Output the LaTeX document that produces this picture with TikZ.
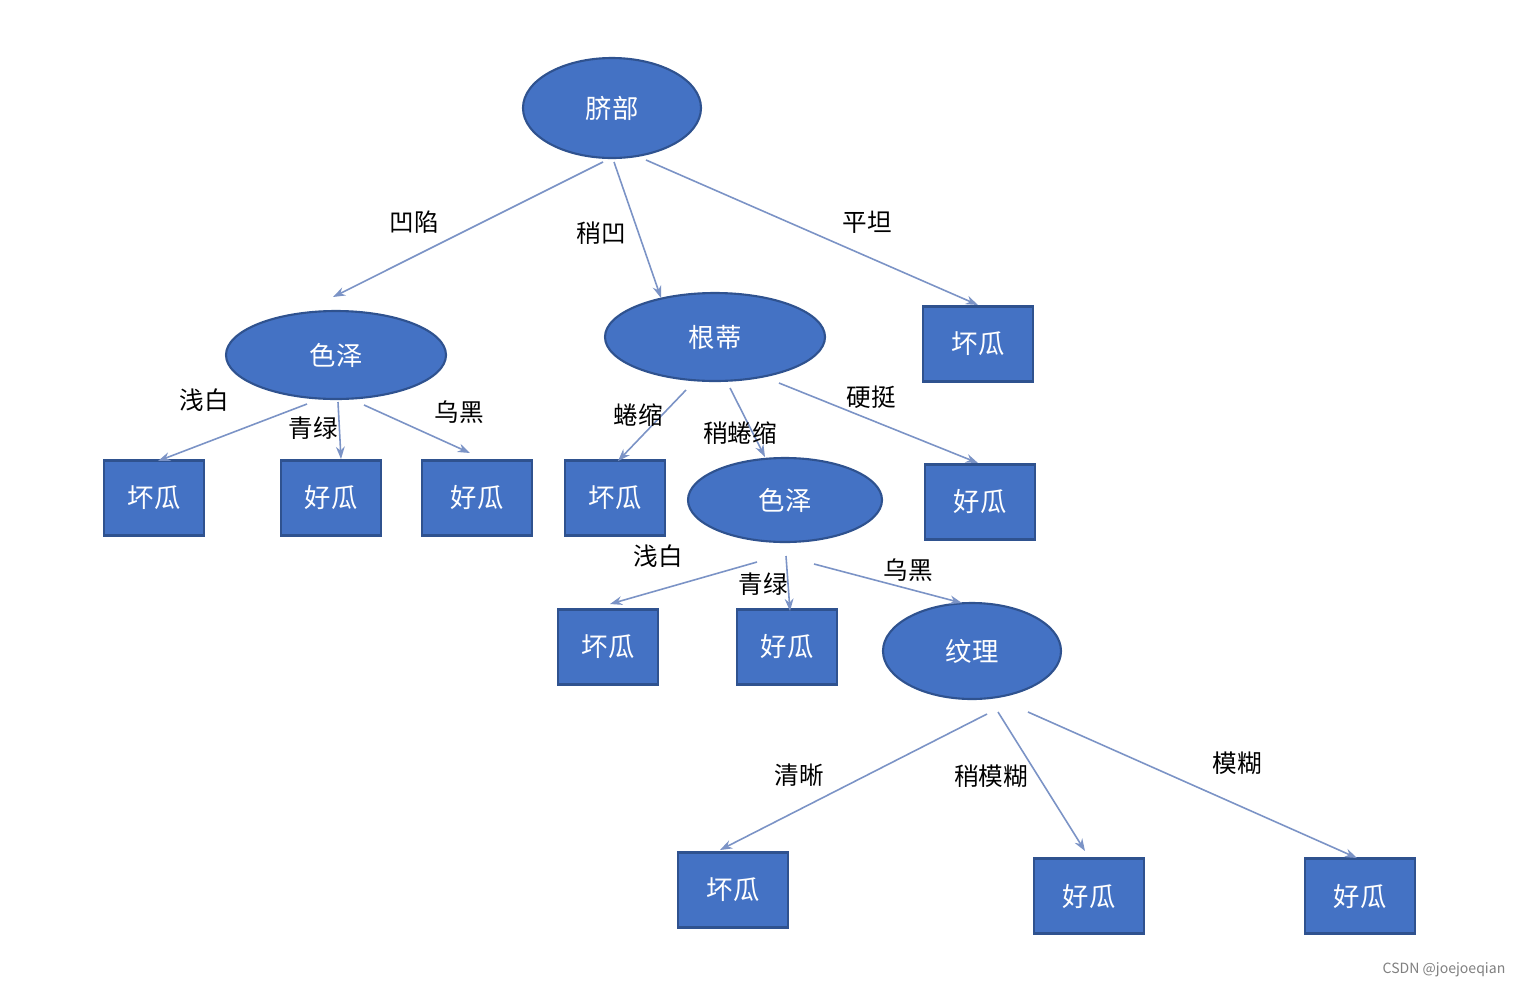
\documentclass[tikz,border=0pt]{standalone}
\usepackage{fontspec}
\setmainfont{Noto Sans CJK SC}
\usetikzlibrary{shapes.geometric,calc,arrows.meta}
\definecolor{nfill}{HTML}{4472C4}
\definecolor{nline}{HTML}{2F528F}
\definecolor{aline}{HTML}{7B93C6}
\begin{document}
\begin{tikzpicture}[x=0.02cm,y=-0.02cm,
  ell/.style={ellipse,fill=nfill,draw=nline,line width=1.2pt,text=white,font=\fontsize{15}{18}\selectfont,inner sep=0pt},
  box/.style={rectangle,fill=nfill,draw=nline,line width=1.2pt,text=white,font=\fontsize{15}{18}\selectfont,minimum height=75*0.02cm},
  arr/.style={draw=aline,line width=0.9pt,-{Stealth[length=7pt,width=5pt]}},
  lab/.style={font=\fontsize{14}{17}\selectfont,text=black}]
\useasboundingbox (0,0) rectangle (1526,988);
\fill[white] (0,0) rectangle (1526,988);
% nodes
\node[ell,minimum width=178*0.02cm,minimum height=100*0.02cm] (r) at (612,108) {脐部};
\node[ell,minimum width=220*0.02cm,minimum height=88*0.02cm] (s1) at (336,355) {色泽};
\node[ell,minimum width=220*0.02cm,minimum height=88*0.02cm] (g) at (715,337) {根蒂};
\node[box,minimum width=110*0.02cm] (b0) at (978,344) {坏瓜};
\node[box,minimum width=100*0.02cm] (l1) at (154,498) {坏瓜};
\node[box,minimum width=100*0.02cm] (l2) at (331,498) {好瓜};
\node[box,minimum width=110*0.02cm] (l3) at (477,498) {好瓜};
\node[box,minimum width=100*0.02cm] (l4) at (615,498) {坏瓜};
\node[ell,minimum width=194*0.02cm,minimum height=84*0.02cm] (s2) at (785,500) {色泽};
\node[box,minimum width=110*0.02cm] (l5) at (980,502) {好瓜};
\node[box,minimum width=100*0.02cm] (m1) at (608,647) {坏瓜};
\node[box,minimum width=100*0.02cm] (m2) at (787,647) {好瓜};
\node[ell,minimum width=178*0.02cm,minimum height=96*0.02cm] (w) at (972,651) {纹理};
\node[box,minimum width=110*0.02cm] (n1) at (733,890) {坏瓜};
\node[box,minimum width=110*0.02cm] (n2) at (1089,896) {好瓜};
\node[box,minimum width=110*0.02cm] (n3) at (1360,896) {好瓜};
% edges
\draw[arr] ($(r)+(-9,54)$) -- ($(s1)+(-3,-58)$);
\draw[arr] ($(r)+(2,54)$) -- ($(g)+(-54,-39)$);
\draw[arr] ($(r)+(34,52)$) -- ($(b0)+(0,-39)$);
\draw[arr] ($(s1)+(-29,49)$) -- ($(l1)+(4,-37)$);
\draw[arr] ($(s1)+(2,47)$) -- ($(l2)+(10,-39)$);
\draw[arr] ($(s1)+(28,50)$) -- ($(l3)+(-7,-45)$);
\draw[arr] ($(g)+(-29,53)$) -- ($(l4)+(3,-37)$);
\draw[arr] ($(g)+(15,51)$) -- ($(s2)+(-20,-43)$);
\draw[arr] ($(g)+(64,46)$) -- ($(l5)+(-2,-39)$);
\draw[arr] ($(s2)+(-28,62)$) -- ($(m1)+(2,-43)$);
\draw[arr] ($(s2)+(1,56)$) -- ($(m2)+(3,-36)$);
\draw[arr] ($(s2)+(29,64)$) -- ($(w)+(-10,-48)$);
\draw[arr] ($(w)+(15,63)$) -- ($(n1)+(-13,-40)$);
\draw[arr] ($(w)+(26,61)$) -- ($(n2)+(-4,-45)$);
\draw[arr] ($(w)+(56,61)$) -- ($(n3)+(-3,-38)$);
% labels
\node[lab] (t1) at (414,222) {凹陷};
\node[lab] (t2) at (601,233) {稍凹};
\node[lab] (t3) at (867,222) {平坦};
\node[lab] (t4) at (204,400) {浅白};
\node[lab] (t5) at (313,428) {青绿};
\node[lab] (t6) at (459,412) {乌黑};
\node[lab] (t7) at (638,415) {蜷缩};
\node[lab] (t8) at (740,433) {稍蜷缩};
\node[lab] (t9) at (871,397) {硬挺};
\node[lab] (t10) at (658,556) {浅白};
\node[lab] (t11) at (763,584) {青绿};
\node[lab] (t12) at (908,570) {乌黑};
\node[lab] (t13) at (799,775) {清晰};
\node[lab] (t14) at (991,776) {稍模糊};
\node[lab] (t15) at (1237,763) {模糊};
\node[font=\fontsize{8}{10}\selectfont,text=gray] (wm) at (1444,970) {CSDN @joejoeqian};
\end{tikzpicture}
\end{document}
